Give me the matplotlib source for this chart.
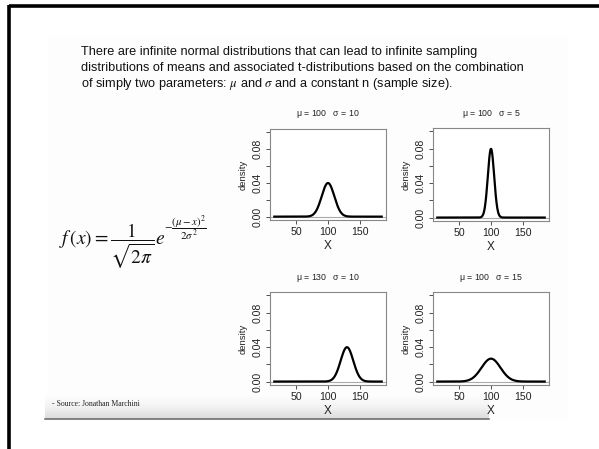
import numpy as np
import matplotlib
matplotlib.use("Agg")
import matplotlib.pyplot as plt
from matplotlib.colors import LinearSegmentedColormap

plt.rcParams['font.family'] = ['Liberation Sans', 'DejaVu Sans']
plt.rcParams['mathtext.fontset'] = 'stix'

# parameters of the four normal densities
mus = [100, 100, 130, 100]
sigmas = [10, 5, 10, 15]
x_range = (15, 185)
y_ticks = [0.0, 0.02, 0.04, 0.06, 0.08, 0.10]
y_labels = ['0.00', '', '0.04', '', '0.08', '']
x_ticks = [50, 100, 150]

header = ["There are infinite normal distributions that can lead to infinite sampling",
          "distributions of means and associated t-distributions based on the combination",
          r"of simply two parameters: $\mu$ and $\sigma$ and a constant n (sample size)."]

W, H = 599, 449
fig = plt.figure(figsize=(W / 100, H / 100), dpi=100)
fig.patch.set_facecolor('white')

# page layer in pixel coordinates
bg = fig.add_axes([0, 0, 1, 1])
bg.set_xlim(0, W)
bg.set_ylim(H, 0)
bg.axis('off')

# faint slide background and bottom shading
bg.add_patch(plt.Rectangle((48, 37), 519, 382, color='#fdfdfd', zorder=0))
shade = LinearSegmentedColormap.from_list('shade', ['#ffffff', '#f4f4f4', '#dcdcdc'])
grad = np.linspace(0, 1, 64).reshape(-1, 1)
bg.imshow(grad, extent=(45, 489, 419, 393), cmap=shade, aspect='auto', zorder=1)
bg.plot([45, 489], [419, 419], color='#666666', lw=1.1, zorder=2)

# frame edges
bg.plot([8.5, W], [6, 6], color='black', lw=2.6, solid_capstyle='butt', zorder=3)
bg.plot([8.5, 8.5], [5, H], color='black', lw=2.6, solid_capstyle='butt', zorder=3)

for i, line in enumerate(header):
    bg.text(81, 52 + i * 16, line, fontsize=9.2, color='#111111',
            va='center', ha='left')

# density formula, exponent set as a separate smaller piece
bg.text(59, 246, r'$f\,(x)=\dfrac{1}{\sqrt{2\pi}}e$',
        fontsize=14, va='center', ha='left', color='#111111')
bg.text(164, 228, r'$-\dfrac{(\mu-x)^2}{2\sigma^2}$',
        fontsize=7.8, va='center', ha='left', color='#111111')

bg.text(52, 404, '- Source: Jonathan Marchini', fontsize=5.6, family='Liberation Serif',
        va='center', ha='left', color='#222222')

# panel boxes: left, top, right, bottom in pixels
boxes = [(270, 129, 386, 220), (433, 128, 549, 221),
         (270, 292, 386, 385), (433, 292, 549, 385)]

xs = np.linspace(x_range[0], x_range[1], 400)
for mu, sd, (l, t, r, b) in zip(mus, sigmas, boxes):
    ax = fig.add_axes([l / W, 1 - b / H, (r - l) / W, (b - t) / H])
    ax.set_facecolor('white')
    dens = np.exp(-(xs - mu) ** 2 / (2 * sd ** 2)) / (np.sqrt(2 * np.pi) * sd)
    ax.axhline(0, color='#aaaaaa', lw=0.8)
    ax.plot(xs, dens, color='black', lw=1.6)
    pad = (x_range[1] - x_range[0]) * 0.04
    ax.set_xlim(x_range[0] - pad, x_range[1] + pad)
    ax.set_ylim(-0.004, 0.104)
    for s in ax.spines.values():
        s.set_color('#888888')
        s.set_linewidth(0.8)
    ax.set_yticks(y_ticks)
    ax.set_yticklabels(y_labels, rotation=90, va='center')
    ax.set_xticks(x_ticks)
    ax.tick_params(labelsize=7.6, length=3, width=0.6, color='#333333',
                   labelcolor='#222222', pad=2)
    ax.set_xlabel('X', fontsize=8.5, labelpad=2, color='#222222')
    ax.set_ylabel('density', fontsize=6.8, labelpad=4, color='#222222')
    ax.set_title(r'$\mathregular{\mu}$ = %d   $\mathregular{\sigma}$ = %d' % (mu, sd),
                 fontsize=6.3, pad=9, color='#222222')

fig.savefig('out.png', dpi=100)
